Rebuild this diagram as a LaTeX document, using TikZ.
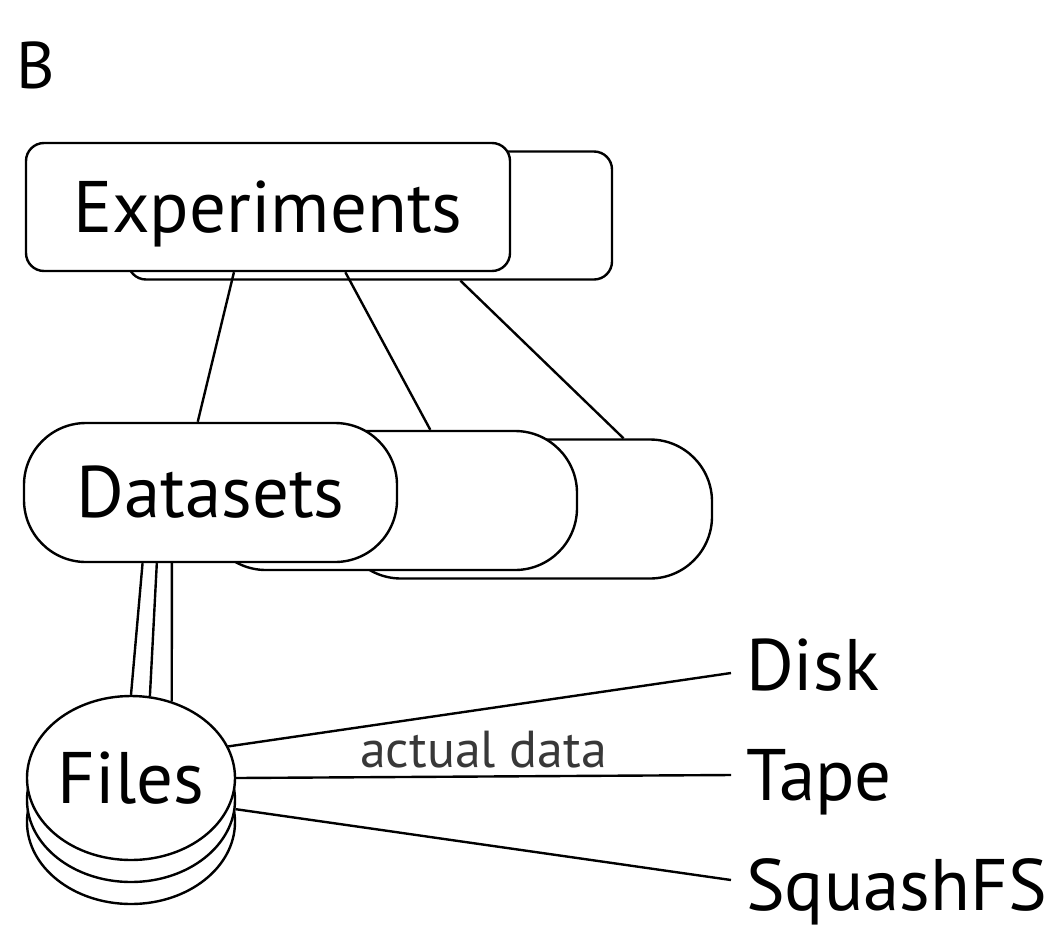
\documentclass[tikz,border=0pt]{standalone}
\usepackage{fontspec}
\setmainfont{PT Sans}
\usetikzlibrary{shapes.geometric, calc}

\begin{document}
\begin{tikzpicture}[x=1pt, y=-1pt, line width=2.4pt,
  big/.style={font=\fontsize{73}{88}\selectfont, text height=50pt, text depth=0pt},
  expbox/.style={draw, fill=white, rounded corners=18pt, minimum width=484pt, minimum height=128pt, inner sep=0pt},
  dsbox/.style={draw, fill=white, rounded corners=62pt, minimum width=373pt, minimum height=139pt, inner sep=0pt},
  disc/.style={draw, fill=white, ellipse, minimum width=208pt, minimum height=164pt, inner sep=0pt},
  store/.style={big, anchor=base west, inner xsep=14pt, inner ysep=0pt}]

  \useasboundingbox (0,0) rectangle (1051,929);
  \node[font=\fontsize{66}{79}\selectfont, anchor=base west, inner sep=0pt] (B) at (15,88) {B};

  %Experiments
  \node[expbox] (exp2) at (370,215.5) {};
  \node[expbox, big] (exp) at (268,207) {Experiments};

  %Datasets
  \node[dsbox] (ds3) at (525.5,509) {};
  \node[dsbox] (ds2) at (390.5,500.5) {};
  \node[dsbox, big] (ds) at (210.5,492.5) {Datasets};

  %Files
  \node[disc] (f3) at (131,822) {};
  \node[disc] (f2) at (131,800) {};
  \node[disc, big] (f) at (131,778) {Files};

  %Storage
  \node[store] (disk) at (731,690) {Disk};
  \node[store] (tape) at (731,800) {Tape};
  \node[store] (squash) at (731,910) {SquashFS};

  %Experiments to datasets
  \draw ($(exp.south west)!0.43!(exp.south east)$) -- ($(ds.north west)!0.466!(ds.north east)$);
  \draw ($(exp.south west)!0.659!(exp.south east)$) -- ($(ds2.north west)!0.606!(ds2.north east)$);
  \draw ($(exp2.south west)!0.686!(exp2.south east)$) -- ($(ds3.north west)!0.761!(ds3.north east)$);

  %Datasets to files
  \draw ($(ds.south west)!0.319!(ds.south east)$) -- (f.90);
  \draw ($(ds.south west)!0.357!(ds.south east)$) -- (f.77);
  \draw ($(ds.south west)!0.397!(ds.south east)$) -- (f.62);

  %Files to storage
  \draw (f.18) -- ([yshift=-8pt]disk.west);
  \draw (f.east) -- (tape.west)
    node[midway, above=7pt, inner sep=0pt, font=\fontsize{52}{62}\selectfont, text=black!78] (actual) {actual data};
  \draw (f2.-5) -- ([yshift=5pt]squash.west);
\end{tikzpicture}
\end{document}
